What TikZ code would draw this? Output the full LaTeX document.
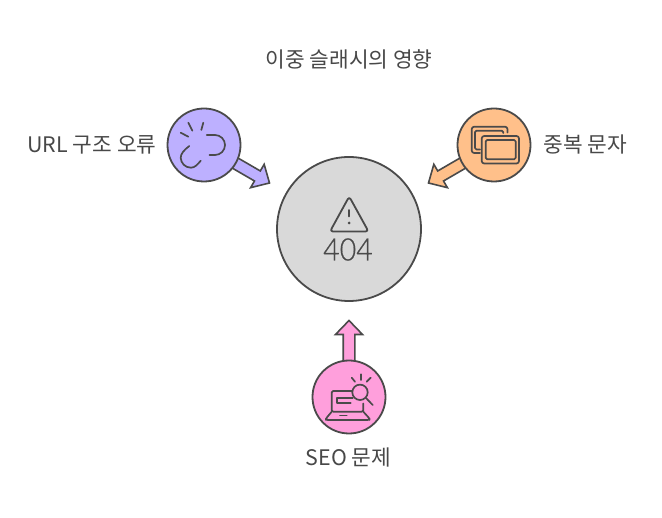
\documentclass[tikz,border=0pt]{standalone}
\usepackage{fontspec}
\setmainfont{Noto Sans CJK KR}
\newfontfamily\digitfont[FakeStretch=0.92,FakeBold=0.5]{Lato Light}
\usetikzlibrary{calc}
\definecolor{ink}{HTML}{4A4A4A}
\definecolor{lab}{HTML}{484848}
\definecolor{cpurple}{HTML}{BDB0FF}
\definecolor{corange}{HTML}{FFC08A}
\definecolor{cpink}{HTML}{FF9FDC}
\definecolor{cgray}{HTML}{D9D9D9}
\tikzset{
  hub/.style={circle,draw=ink,line width=1.8pt,minimum size=144pt,inner sep=0pt,fill=cgray},
  disc/.style={circle,draw=ink,line width=1.8pt,minimum size=73pt,inner sep=0pt},
  lbl/.style={text=lab,font=\fontsize{21.4pt}{24pt}\selectfont,inner sep=0pt,anchor=center},
  blockar/.style={draw=ink,line width=1.6pt,line join=miter},
  icon/.style={draw=ink,line width=1.7pt,line cap=round,line join=round}
}
% #1 from node, #2 tip coordinate, #3 fill
\newcommand{\blockarrowpath}[3]{%
  \path ($(#2)!14pt!(#1)$) coordinate (hb);
  \draw[blockar,fill=#3]
    ($(#1)!5.8pt!-90:(#2)$) -- ($(hb)!5.8pt!-90:(#2)$) -- ($(hb)!13.5pt!-90:(#2)$) -- (#2)
    -- ($(hb)!13.5pt!90:(#2)$) -- ($(hb)!5.8pt!90:(#2)$) -- ($(#1)!5.8pt!90:(#2)$) -- cycle;
}
\begin{document}
\begin{tikzpicture}[x=1pt,y=-1pt]
\useasboundingbox (0,0) rectangle (662,518);
\fill[white] (0,0) rectangle (662,518);
\coordinate (cp) at (204,145);
\coordinate (co) at (494,145);
\coordinate (cs) at (349,397);
\coordinate (tipp) at (269.5,183);
\coordinate (tipo) at (428.5,183);
\coordinate (tips) at (349,320.5);
\blockarrowpath{cp}{tipp}{cpurple}
\blockarrowpath{co}{tipo}{corange}
\blockarrowpath{cs}{tips}{cpink}
\node[hub] (hubn) at (349,229) {};
\node[disc,fill=cpurple] (purple) at (cp) {};
\node[disc,fill=corange] (orange) at (co) {};
\node[disc,fill=cpink] (pink) at (cs) {};
\node[lbl] (title) at (349,59.5) {이중 슬래시의 영향};
\node[lbl] (l1) at (92,144.5) {URL 구조 오류};
\node[lbl] (l2) at (585.5,144.5) {중복 문자};
\node[lbl] (l3) at (348.5,457.5) {SEO 문제};
% warning icon
\draw[icon,line width=1.8pt,rounded corners=3pt] (349.2,196.5) -- (368.5,231.5) -- (330,231.5) -- cycle;
\draw[icon] (349.2,210) -- (349.2,216.5);
\fill[ink] (349.2,223) circle (1.5pt);
\node[text=ink,inner sep=0pt,font=\digitfont\fontsize{31pt}{31pt}\selectfont] (code) at (348,249.5) {404};
% broken link
\draw[icon] (188.3,122.7) -- (192.3,130.7) (203.3,122.7) -- (201.3,130) (180.7,132.7) -- (188.3,136.7);
\draw[icon] (206.7,135) -- (215,135) arc[start angle=-90,end angle=90,radius=10] -- (209.5,155);
\draw[icon] (189.3,146) .. controls (184,150) and (180.5,154) .. (180.7,158) .. controls (181,163) and (185,167.7) .. (191,167.7) .. controls (195,167.7) and (198,164) .. (200.7,160.7);
% duplicate docs
\draw[icon,rounded corners=2.5pt] (481.7,136) rectangle (519,163.5);
\draw[icon,rounded corners=1.5pt] (485.7,140) rectangle (515.7,159.3);
\draw[icon,rounded corners=2.5pt] (507.5,132.5) -- (507.5,126.7) -- (471.7,126.7) -- (471.7,153) -- (480,153);
\draw[icon,rounded corners=1.5pt] (503.3,133) -- (503.3,130.7) -- (475,130.7) -- (475,149.5) -- (480,149.5);
% laptop and magnifier
\draw[icon] (360,392.3) circle (7.7pt);
\draw[icon] (366,398) -- (372.7,405);
\draw[icon] (351.7,377.7) -- (355,381.7) (361,374.3) -- (361,380) (370.7,377.7) -- (366.7,381.7);
\draw[icon,rounded corners=1.5pt] (352.3,391) -- (331.7,391) -- (331.7,411.7) -- (363.3,411.7) -- (363.3,403.5);
\draw[icon] (352.7,398.3) -- (336.7,398.3) -- (336.7,403.3) -- (350.7,403.3);
\draw[icon,rounded corners=1.5pt] (331.7,411.7) -- (326,418.5) -- (326,420) -- (369.5,420) -- (369.5,418.5) -- (363.3,411.7);
\draw[icon] (340,415.5) -- (346.7,415.5);
\end{tikzpicture}
\end{document}
